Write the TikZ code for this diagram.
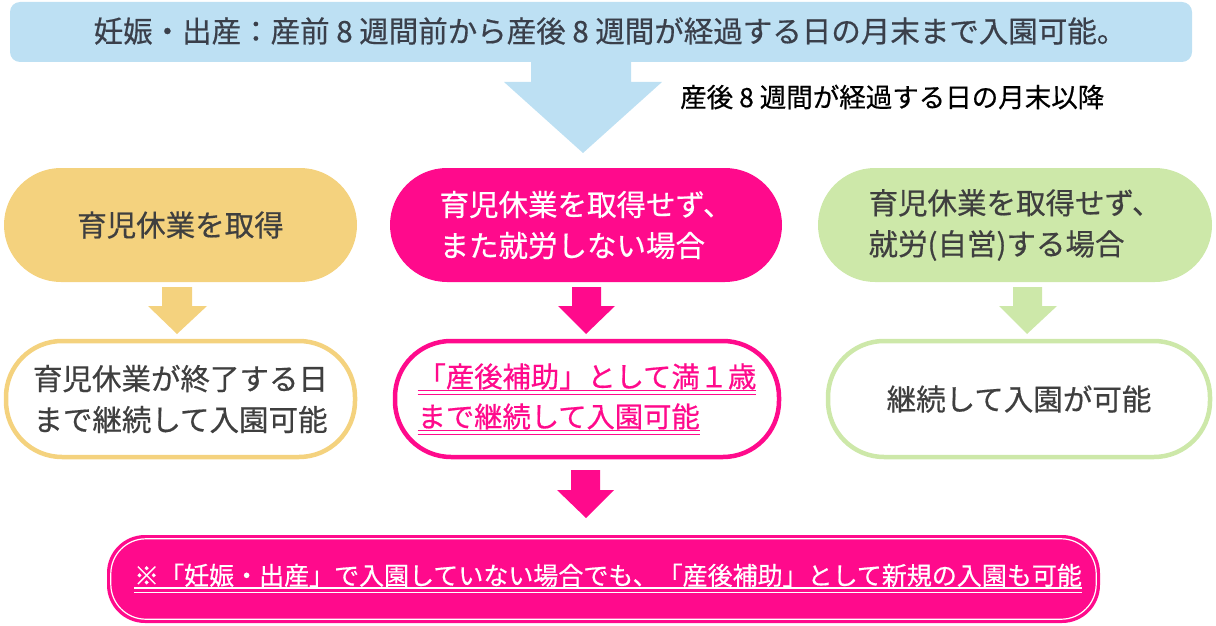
\documentclass[tikz,border=0pt]{standalone}
\usepackage{fontspec}
\newfontfamily\jp{Noto Sans CJK JP}[FakeBold=0.5]
\definecolor{lblue}{HTML}{BDE0F3}
\definecolor{sand}{HTML}{F4D27E}
\definecolor{mag}{HTML}{FF0A8C}
\definecolor{lgreen}{HTML}{CDE8A9}
\definecolor{dgray}{HTML}{3F3F3F}
\definecolor{slate}{HTML}{3A3F4A}
\newcommand\dblul[1]{\begingroup\setbox0\hbox{#1}\rlap{\raisebox{-4pt}{\rule{\wd0}{1.6pt}}}\rlap{\raisebox{-7.5pt}{\rule{\wd0}{0.8pt}}}\box0\endgroup}
\tikzset{
  txt/.style={font=\jp, align=center, inner sep=0pt},
  pill/.style={rounded corners=57pt, minimum height=114pt, inner sep=0pt, align=center, font=\jp\fontsize{29.5}{41}\selectfont},
  obox/.style={rounded corners=56pt, minimum height=116pt, inner sep=0pt, line width=4.5pt, fill=white, align=center, font=\jp\fontsize{29.5}{41}\selectfont},
}
\begin{document}
\begin{tikzpicture}[x=1pt,y=-1pt]
\useasboundingbox (0,0) rectangle (1216,626);
% top banner
\node[fill=lblue, rounded corners=10pt, minimum width=1182pt, minimum height=60pt, inner sep=0pt] (banner) at (601,32) {};
\node[txt, text=slate, font=\jp\fontsize{29.5}{30}\selectfont] (bannertxt) at (610,31) {妊娠・出産：産前 8 週間前から産後 8 週間が経過する日の月末まで入園可能。};
% big arrow
\fill[lblue] (531,60) -- (631,60) -- (631,82) -- (662,82) -- (583,153) -- (504,82) -- (531,82) -- cycle;
\node[txt, text=black, font=\jp\fontsize{26.5}{30}\selectfont, anchor=west] (after) at (680,97) {産後 8 週間が経過する日の月末以降};
% top pills
\node[pill, fill=sand, text=dgray, minimum width=353pt] (p1) at (180.5,225) {育児休業を取得};
\node[pill, fill=mag, text=white, minimum width=392pt, align=left] (p2) at (586,225) {育児休業を取得せず、\\また就労しない場合};
\node[pill, fill=lgreen, text=dgray, minimum width=394pt, align=left] (p3) at (1015,225) {育児休業を取得せず、\\就労(自営)する場合};
% small arrows
\fill[sand] (162,287) -- (192,287) -- (192,306) -- (207,306) -- (177,334) -- (148,306) -- (162,306) -- cycle;
\fill[mag] (572,287) -- (601,287) -- (601,306) -- (615,306) -- (586,334) -- (558,306) -- (572,306) -- cycle;
\fill[lgreen] (1013,287) -- (1042,287) -- (1042,306) -- (1057,306) -- (1027,334) -- (999,306) -- (1013,306) -- cycle;
% second row
\node[obox, draw=sand, text=dgray, minimum width=349pt] (b1) at (180.5,399) {育児休業が終了する日\\まで継続して入園可能};
\node[obox, draw=mag, text=mag, minimum width=384pt, align=left, font=\jp\fontsize{28.3}{40}\selectfont] (b2) at (587,399) {\dblul{「産後補助」として満１歳}\\\dblul{まで継続して入園可能}};
\node[obox, draw=lgreen, text=dgray, minimum width=382pt] (b3) at (1019,399) {継続して入園が可能};
% bottom arrow
\fill[mag] (571,470) -- (600,470) -- (600,490) -- (614,490) -- (586,518) -- (557,490) -- (571,490) -- cycle;
% bottom box
\node[fill=mag, rounded corners=38pt, minimum width=993pt, minimum height=88pt, inner sep=0pt] (bottom) at (603.5,579) {};
\draw[white, line width=1.2pt, rounded corners=35pt] ([shift={(4,-4)}]bottom.south west) rectangle ([shift={(-4,4)}]bottom.north east);
\node[txt, text=white, font=\jp\fontsize{25}{30}\selectfont] (bottomtxt) at (608,578) {\dblul{※「妊娠・出産」で入園していない場合でも、「産後補助」として新規の入園も可能}};
\end{tikzpicture}
\end{document}
